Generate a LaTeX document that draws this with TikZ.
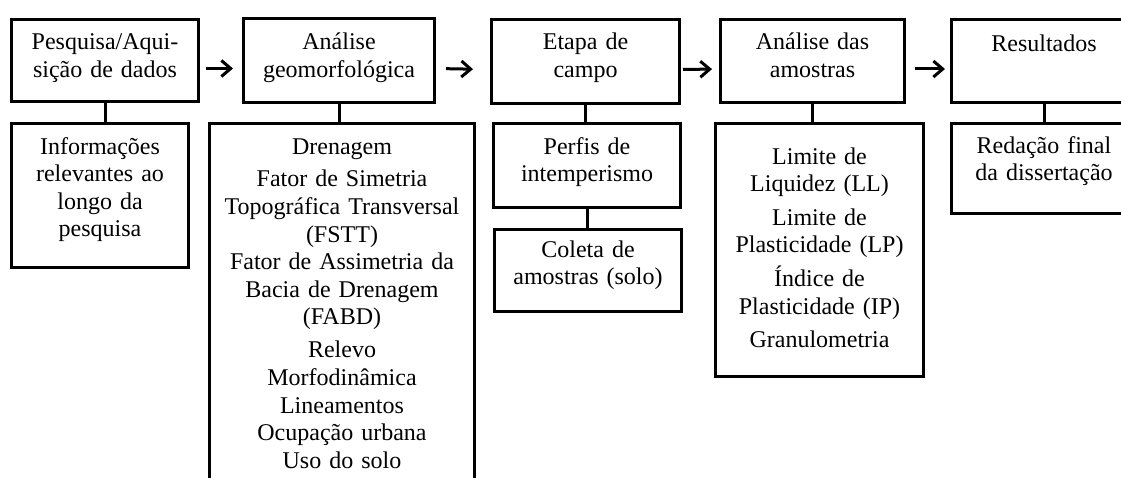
\documentclass[tikz,border=0pt]{standalone}
\usepackage{fontspec}
\setmainfont{Liberation Serif}
\usetikzlibrary{arrows.meta}

\tikzset{
  box/.style={draw, line width=2.25pt, anchor=north west, inner sep=0pt},
  txt/.style={text width=190pt, align=center, anchor=base, inner sep=0pt,
    font=\fontsize{18}{20.7}\selectfont},
  link/.style={line width=2.25pt},
  arr/.style={line width=2.25pt, -{Straight Barb[length=7pt,width=12pt]}},
}

\begin{document}
\begin{tikzpicture}[x=0.75pt,y=-0.75pt]
\useasboundingbox (0,0) rectangle (1121,478);

% etapas
\node[box, minimum width=140.25pt, minimum height=61.5pt]  (pesq)   at (10,18)  {}; %
\node[box, minimum width=143.25pt, minimum height=63pt]    (geo)    at (242,17) {}; %
\node[box, minimum width=141pt,    minimum height=63pt]    (campo)  at (490,18) {}; %
\node[box, minimum width=138pt,    minimum height=62.25pt] (amost)  at (719,18) {}; %
\node[box, minimum width=138.75pt, minimum height=62.25pt] (result) at (950,18) {}; %

\node[txt, yshift=-24pt]    (pesqT)   at (pesq.north)   {Pesquisa/Aqui-\\sição de dados};
\node[txt, yshift=-24.75pt] (geoT)    at (geo.north)    {Análise\\geomorfológica};
\node[txt, yshift=-24pt]    (campoT)  at (campo.north)  {Etapa de\\campo};
\node[txt, yshift=-24pt]    (amostT)  at (amost.north)  {Análise das\\amostras};
\node[txt, yshift=-25.5pt]  (resultT) at (result.north) {Resultados};

% detalhes
\node[box, minimum width=132.75pt, minimum height=108pt]    (info)    at (10,122)  {}; %
\node[box, minimum width=198.75pt, minimum height=279.75pt] (indices) at (208,122) {}; %
\node[box, minimum width=140.25pt, minimum height=63pt]     (perfis)  at (492,122) {}; %
\node[box, minimum width=140.25pt, minimum height=61.5pt]   (coleta)  at (493,228) {}; %
\node[box, minimum width=156pt,    minimum height=189.75pt] (ensaios) at (714,122) {}; %
\node[box, minimum width=138.75pt, minimum height=67.5pt]   (redacao) at (950,122) {}; %

\node[txt, yshift=-24pt]    (infoT)    at (info.north)    {Informações\\relevantes ao\\longo da\\pesquisa};
\node[txt, yshift=-24pt]    (indicesT) at (indices.north) {Drenagem\\[4pt]Fator de Simetria\\Topográfica Transversal\\(FSTT)\\Fator de Assimetria da\\Bacia de Drenagem\\(FABD)\\[4pt]Relevo\\Morfodinâmica\\Lineamentos\\Ocupação urbana\\Uso do solo};
\node[txt, yshift=-24pt]    (perfisT)  at (perfis.north)  {Perfis de\\intemperismo};
\node[txt, yshift=-21.75pt] (coletaT)  at (coleta.north)  {Coleta de\\amostras (solo)};
\node[txt, yshift=-31.5pt]  (ensaiosT) at (ensaios.north) {Limite de\\Liquidez (LL)\\[4.5pt]Limite de\\Plasticidade (LP)\\[4.5pt]Índice de\\Plasticidade (IP)\\[4.5pt]Granulometria};
\node[txt, yshift=-23.25pt] (redacaoT) at (redacao.north) {Redação final\\da dissertação};

% setas
\draw[arr, shorten <=4.5pt, shorten >=6.75pt]  ([yshift=-6pt]pesq.east)  -- ([yshift=-6pt]geo.west);
\draw[arr, shorten <=7.5pt, shorten >=12.75pt] ([yshift=-6pt]geo.east)   -- ([yshift=-6pt]campo.west);
\draw[arr, shorten <=1.5pt, shorten >=5.25pt]  ([yshift=-6pt]campo.east) -- ([yshift=-6pt]amost.west);
\draw[arr, shorten <=6.75pt, shorten >=3.75pt] ([yshift=-6pt]amost.east) -- ([yshift=-6pt]result.west);

% ligacoes
\draw[link] (pesq.south)   -- (pesq.south |- info.north);
\draw[link] (geo.south)    -- (geo.south |- indices.north);
\draw[link] (campo.south)  -- (campo.south |- perfis.north);
\draw[link] (perfis.south) -- (perfis.south |- coleta.north);
\draw[link] (amost.south)  -- (amost.south |- ensaios.north);
\draw[link] (result.south) -- (result.south |- redacao.north);

\end{tikzpicture}
\end{document}
